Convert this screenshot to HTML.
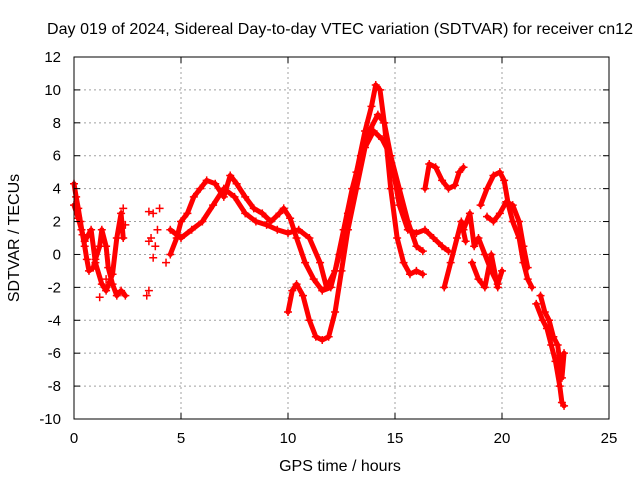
<!DOCTYPE html>
<html><head><meta charset="utf-8"><style>
body{margin:0;background:#fff}
svg{display:block;font-family:"Liberation Sans",sans-serif}
</style></head><body>
<svg id="c" width="640" height="480">
<text x="340" y="34" font-size="16" text-anchor="middle" textLength="586">Day 019 of 2024, Sidereal Day-to-day VTEC variation (SDTVAR) for receiver cn12</text>
<text x="340" y="471" font-size="16" text-anchor="middle">GPS time / hours</text>
<text transform="translate(19,238) rotate(-90)" font-size="16" text-anchor="middle">SDTVAR / TECUs</text>
<g id="grid"></g><g id="marks"></g><g id="axes"></g>
</svg>
<script>
const xTicks=[0,5,10,15,20,25];
const yTicks=[-10,-8,-6,-4,-2,0,2,4,6,8,10,12];
const seriesA=[[0,4.3],[0.1,3.5],[0.2,2.8],[0.3,2],[0.4,1.2],[0.5,0.5],[0.6,-0.3],[0.7,-1],[0.9,-0.8],[1.0,-0.3],[1.2,0.5],[1.3,1.5],[1.5,0.5],[1.6,-0.8],[1.8,-1.8],[2.0,-2.5],[2.2,-2.2],[2.4,-2.5]];
const seriesB=[[0,3],[0.2,2.2],[0.35,1.5],[0.5,0.8],[0.8,1.5],[1.0,-0.5],[1.3,-1.8],[1.5,-2.2],[1.8,-1.2],[2.0,1],[2.2,2.5],[2.3,1]];
const scatter=[[3.4,-2.5],[3.5,-2.2],[3.5,2.6],[3.7,2.5],[3.6,1],[3.8,0.5],[3.7,-0.2],[3.9,1.5],[4.0,2.8],[4.3,-0.5],[3.5,0.8],[1.2,-2.6],[1.5,-1.5],[2.3,2.8],[2.4,1.8]];
const seriesC=[[4.5,0],[4.8,1],[5.0,2],[5.3,2.5],[5.6,3.5],[5.9,4],[6.2,4.5],[6.6,4.3],[7.0,3.5],[7.3,4.8],[7.6,4.3],[8.0,3.5],[8.4,2.8],[8.8,2.5],[9.2,2],[9.6,2.5],[9.8,2.8],[10.1,2.2],[10.4,1],[10.8,-0.5],[11.2,-1.5],[11.6,-2.2],[12.0,-2],[12.4,0],[12.8,2.5],[13.2,5],[13.6,7.5],[13.9,9],[14.1,10.3],[14.3,10],[14.5,8],[14.8,4],[15.1,1],[15.4,-0.5],[15.7,-1.2],[16,-1],[16.3,-1.2]];
const seriesD=[[4.5,1.5],[5,1],[5.5,1.5],[6,2],[6.5,3],[7,4],[7.5,3.5],[8,2.5],[8.5,2],[9,1.8],[9.5,1.5],[10,1.3],[10.5,1.5],[11,1],[11.5,-0.5],[11.8,-2],[12.2,-1],[12.6,1.5],[13,4],[13.4,6],[13.8,7.5],[14.2,8.5],[14.5,8],[14.8,6],[15.2,3],[15.6,1.5],[16,1.3],[16.4,1.5],[16.8,1],[17.2,0.5],[17.5,0.2]];
const seriesE=[[10,-3.5],[10.2,-2.2],[10.4,-1.8],[10.7,-2.5],[11,-4],[11.3,-5],[11.6,-5.2],[11.9,-5],[12.2,-3.5],[12.5,-1],[12.8,1.5],[13.2,4],[13.6,6.5],[14,7.5],[14.4,7],[14.8,6],[15.2,4],[15.6,2],[16,0.5],[16.3,0.2]];
const seriesF=[[16.4,4],[16.6,5.5],[16.9,5.3],[17.2,4.5],[17.5,4],[17.8,4.2],[18.0,5],[18.2,5.3]];
const seriesG=[[17.3,-2],[17.6,-0.5],[17.9,1],[18.1,2],[18.3,0.8]];
const seriesH=[[18.2,1.5],[18.5,2.5],[18.7,0.5],[18.9,1],[19.2,0],[19.5,-1],[19.8,-1.8],[20.0,-1]];
const seriesI=[[19,3],[19.3,4],[19.6,4.8],[19.9,5],[20.1,4.5],[20.3,3],[20.5,2],[20.8,1],[21,-0.5],[21.2,-1.5],[21.4,-2]];
const seriesJ=[[19.3,2.3],[19.6,2],[19.9,2.5],[20.2,3.2],[20.5,3],[20.8,2],[21.0,0.5],[21.2,-0.8]];
const seriesK=[[18.6,-0.5],[18.9,-1.5],[19.2,-2],[19.5,0],[19.8,-2]];
const seriesL=[[21.6,-3],[21.9,-4],[22.1,-4.5],[22.3,-5.5],[22.5,-6.5],[22.7,-8],[22.8,-9],[22.9,-9.2]];
const seriesM=[[21.8,-2.5],[22,-3.5],[22.2,-4],[22.4,-5],[22.6,-5.5],[22.7,-6.5],[22.8,-7.5],[22.9,-6]];
const lines=[seriesA,seriesB,seriesC,seriesD,seriesE,seriesF,seriesG,seriesH,seriesI,seriesJ,seriesK,seriesL,seriesM];

const L=74,R=609,T=57,B=419;
const sx=v=>L+(v-0)/(25-0)*(R-L);
const sy=v=>B-(v+10)/22*(B-T);
const NS="http://www.w3.org/2000/svg";
function mk(tag,attrs,parent){const e=document.createElementNS(NS,tag);for(const k in attrs)e.setAttribute(k,attrs[k]);parent.appendChild(e);return e;}
const grid=document.getElementById('grid'),marks=document.getElementById('marks'),axes=document.getElementById('axes');
xTicks.forEach(t=>{const x=sx(t);
 if(t>0&&t<25){const g=mk('line',{x1:x,x2:x,y1:T,y2:B,stroke:'#a0a0a0','stroke-dasharray':'2,3'},grid);
 
 }
 const tx=mk('text',{x:x,y:B+24,'font-size':15,'text-anchor':'middle'},axes);tx.textContent=t;
 
 
 mk('line',{x1:x,x2:x,y1:B,y2:B-6,stroke:'#000'},axes);mk('line',{x1:x,x2:x,y1:T,y2:T+6,stroke:'#000'},axes);});
yTicks.forEach(t=>{const y=sy(t);
 if(t>-10&&t<12){const g=mk('line',{x1:L,x2:R,y1:y,y2:y,stroke:'#a0a0a0','stroke-dasharray':'2,3'},grid);
 
 }
 const tx=mk('text',{x:L-13,y:y+5,'font-size':15,'text-anchor':'end'},axes);tx.textContent=t;
 
 
 mk('line',{x1:L,x2:L+6,y1:y,y2:y,stroke:'#000'},axes);mk('line',{x1:R,x2:R-6,y1:y,y2:y,stroke:'#000'},axes);});
const fr=mk('rect',{x:L,y:T,width:R-L,height:B-T,fill:'none',stroke:'#000'},axes);


lines.forEach(s=>{
 const p=mk('polyline',{points:s.map(d=>sx(d[0])+','+sy(d[1])).join(' '),fill:'none',stroke:'#f00','stroke-width':5,'stroke-linejoin':'round','stroke-linecap':'round'},marks);
 
 });
[...lines,scatter].forEach(s=>s.forEach(d=>{const x=sx(d[0]),y=sy(d[1]);
 const m=mk('path',{d:`M${x-4},${y}H${x+4}M${x},${y-4}V${y+4}`,stroke:'#f00','stroke-width':1.5},marks);
 
 }));
</script>
</body></html>
